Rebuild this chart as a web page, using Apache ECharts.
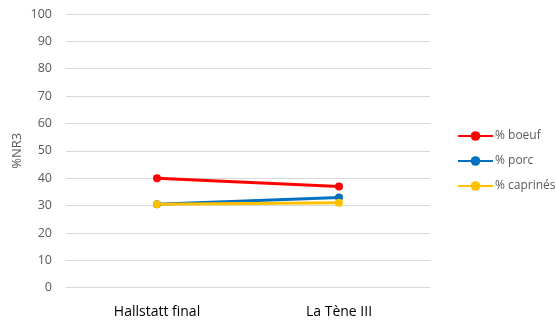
<!DOCTYPE html>
<html><head><meta charset="utf-8">
<script src="https://cdn.jsdelivr.net/npm/echarts@6/dist/echarts.min.js"></script>
<style>html,body{margin:0;padding:0;background:#fff}#c{width:556px;height:327px}</style>
</head><body><div id="c"></div>
<script>
const categories = ['Hallstatt final', 'La Tène III'];
const boeuf = [40, 37];
const porc = [30.5, 33];
const caprines = [30.5, 31];
const seriesNames = ['% boeuf', '% porc', '% caprinés'];
const colors = ['#FF0000', '#0070C0', '#FFC000'];
const chart = echarts.init(document.getElementById('c'));
const mk = (name, data, color) => ({
  name, type: 'line', data, color,
  symbol: 'circle', symbolSize: 8,
  lineStyle: { width: 3, color }, itemStyle: { color }
});
chart.setOption({
  animation: false,
  grid: { left: 66, right: 126, top: 14, bottom: 39.3, containLabel: false },
  legend: {
    orient: 'vertical', left: 452, top: 125, itemGap: 13,
    itemWidth: 35, itemHeight: 12,
    textStyle: { color: '#595959', fontSize: 12, fontFamily: 'Open Sans', padding: [0, 0, 0, -3] },
    data: seriesNames
  },
  xAxis: {
    type: 'category', data: categories, boundaryGap: true,
    axisLine: { show: true, lineStyle: { color: '#d9d9d9' } },
    axisTick: { show: false },
    axisLabel: { color: '#000', fontSize: 14, fontFamily: 'Open Sans', margin: 17 }
  },
  yAxis: {
    type: 'value', min: 0, max: 100, interval: 10,
    name: '%NR3', nameLocation: 'middle', nameGap: 42, nameRotate: 90,
    nameMoveOverlap: false,
    nameTextStyle: { color: '#595959', fontSize: 13, fontFamily: 'Open Sans' },
    axisLine: { show: false }, axisTick: { show: false },
    axisLabel: { color: '#595959', fontSize: 12.5, fontFamily: 'Open Sans', margin: 14 },
    splitLine: { lineStyle: { color: '#d9d9d9', width: 1 } }
  },
  series: [mk(seriesNames[0], boeuf, colors[0]), mk(seriesNames[1], porc, colors[1]), mk(seriesNames[2], caprines, colors[2])]
});
</script></body></html>
